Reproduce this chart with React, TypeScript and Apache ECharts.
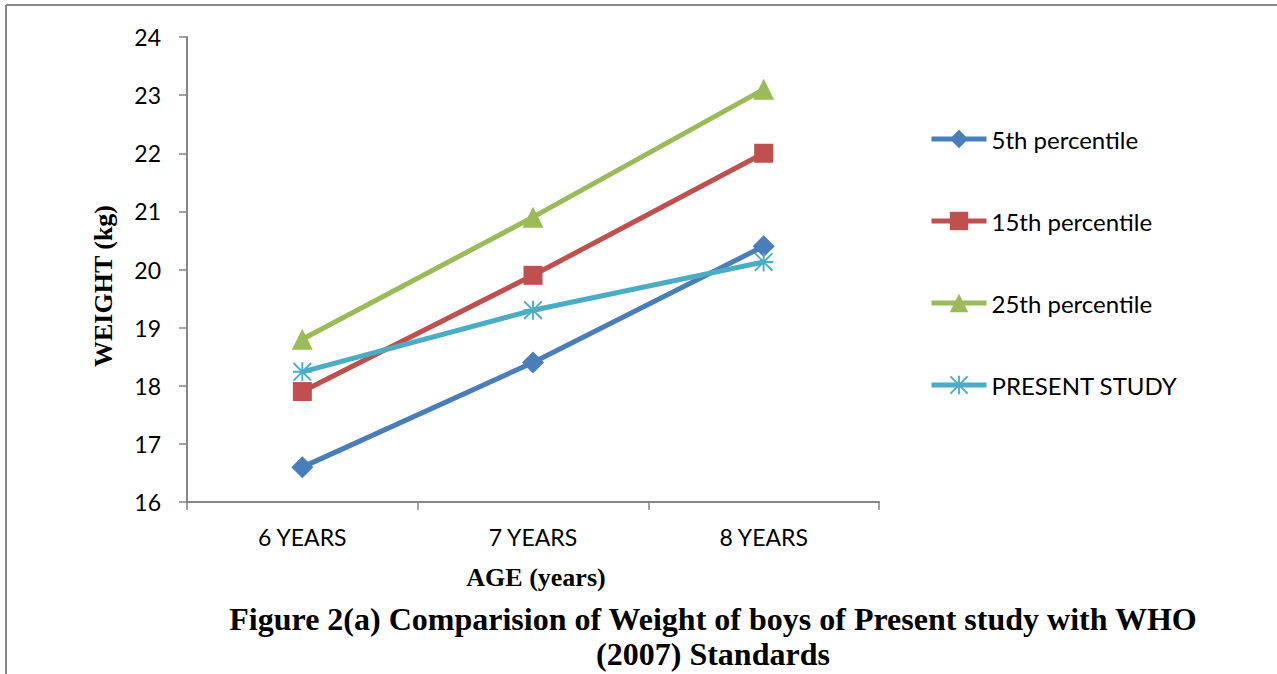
import React, { useEffect, useRef } from "react";
import * as echarts from "echarts";

const categories = ["6 YEARS", "7 YEARS", "8 YEARS"];
const p5 = [16.6, 18.4, 20.4];
const p15 = [17.9, 19.9, 22.0];
const p25 = [18.8, 20.9, 23.1];
const present = [18.24, 19.3, 20.13];
const yTicks = { min: 16, max: 24, interval: 1 };

const STAR =
  "path://M9,0 L11,0 L11,20 L9,20 Z M0,1.4 L1.4,0 L20,18.6 L18.6,20 Z M18.6,0 L20,1.4 L1.4,20 L0,18.6 Z M0,9 L20,9 L20,11 L0,11 Z";

const SANS = "Lato, 'Open Sans', sans-serif";
const SERIF = "'Liberation Serif', 'Times New Roman', serif";

export default function App() {
  const ref = useRef<HTMLDivElement>(null);
  useEffect(() => {
    if (!ref.current) return;
    const chart = echarts.init(ref.current, undefined, { renderer: "svg" });
    const mk = (name: string, data: number[], color: string, symbol: string, size: number) => ({
      name,
      type: "line",
      data,
      symbol,
      symbolSize: size,
      lineStyle: { color, width: 5 },
      itemStyle: { color },
      z: 2,
    });
    const txt = (text: string, x: number, y: number, size: number, rot = 0) => ({
      type: "text",
      x,
      y,
      rotation: rot,
      style: {
        text,
        fontFamily: SERIF,
        fontWeight: "bold",
        fontSize: size,
        fill: "#000",
        textAlign: "center",
        textVerticalAlign: "middle",
      },
    });
    chart.setOption({
      animation: false,
      backgroundColor: "#ffffff",
      grid: { left: 187, right: 398, top: 37, bottom: 172 },
      legend: {
        orient: "vertical",
        left: 929,
        top: 127,
        padding: 0,
        itemWidth: 55,
        itemHeight: 23,
        itemGap: 58,
        lineStyle: { width: 5 },
        textStyle: { fontFamily: SANS, fontSize: 24, color: "#000" },
        data: ["5th percentile", "15th percentile", "25th percentile", "PRESENT STUDY"],
      },
      xAxis: {
        type: "category",
        data: categories,
        boundaryGap: true,
        axisLine: { lineStyle: { color: "#868686", width: 2 } },
        axisTick: { show: true, length: 8, interval: 0, lineStyle: { color: "#868686", width: 1.5 } },
        axisLabel: { fontFamily: SANS, fontSize: 23, color: "#000", margin: 23, interval: 0 },
        splitLine: { show: false },
      },
      yAxis: {
        type: "value",
        min: yTicks.min,
        max: yTicks.max,
        interval: yTicks.interval,
        axisLine: { show: true, lineStyle: { color: "#868686", width: 2 } },
        axisTick: { show: true, length: 8, lineStyle: { color: "#868686", width: 1.5 } },
        axisLabel: { fontFamily: SANS, fontSize: 23, color: "#000", margin: 26 },
        splitLine: { show: false },
      },
      series: [
        mk("5th percentile", p5, "#4A7EBB", "diamond", 22),
        mk("15th percentile", p15, "#C0504D", "rect", 19),
        mk("25th percentile", p25, "#9BBB59", "triangle", 21),
        mk("PRESENT STUDY", present, "#4BACC6", STAR, 19),
      ],
      graphic: [
        { type: "line", shape: { x1: 6, y1: 5, x2: 1277, y2: 5 }, style: { stroke: "#888", lineWidth: 2 } },
        { type: "line", shape: { x1: 6, y1: 5, x2: 6, y2: 674 }, style: { stroke: "#888", lineWidth: 2 } },
        txt("WEIGHT (kg)", 103, 286, 26, Math.PI / 2),
        txt("AGE (years)", 536, 577, 26),
        txt("Figure 2(a) Comparision of Weight of boys of Present study with WHO", 713, 619, 32),
        txt("(2007) Standards", 713, 654, 32),
      ],
    });
    return () => chart.dispose();
  }, []);
  return (
    <div
      ref={ref}
      style={{ position: "absolute", left: 0, top: 0, width: 1277, height: 674 }}
    />
  );
}
